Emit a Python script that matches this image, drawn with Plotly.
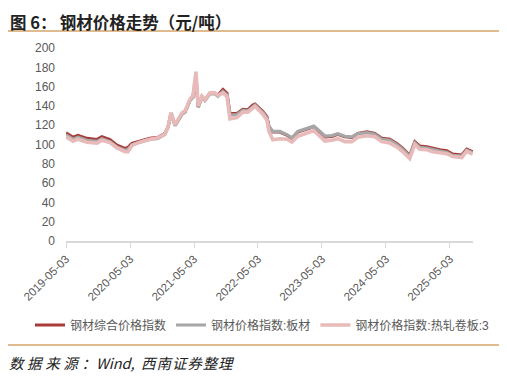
import plotly.graph_objects as go

dates = ["2019-05-03","2019-06-12","2019-07-10","2019-08-31","2019-10-27","2019-11-24","2020-01-09",
         "2020-02-18","2020-04-04","2020-04-21","2020-05-14","2020-06-28","2020-08-24","2020-10-09",
         "2020-11-18","2020-12-06","2020-12-23","2021-01-15","2021-02-24","2021-03-13","2021-04-10",
         "2021-04-27","2021-05-14","2021-05-27","2021-06-17","2021-07-04","2021-08-02","2021-08-30",
         "2021-09-16","2021-10-15","2021-11-07","2021-11-24","2022-01-03","2022-02-06","2022-03-07",
         "2022-04-04","2022-04-16","2022-05-03","2022-05-31","2022-06-23","2022-07-05","2022-07-27",
         "2022-09-05","2022-10-15","2022-11-13","2022-12-17","2023-02-06","2023-03-18","2023-04-21",
         "2023-05-20","2023-06-29","2023-08-02","2023-09-11","2023-10-21","2023-11-24","2024-01-15",
         "2024-02-29","2024-04-09","2024-05-25","2024-07-04","2024-08-07","2024-09-16","2024-10-15",
         "2024-11-12","2024-12-22","2025-01-25","2025-03-06","2025-04-15","2025-05-19","2025-07-10",
         "2025-08-07","2025-09-10"]

composite = [112.0,107.5,109.5,106.3,105.2,108.0,105.0,
             99.3,95.9,97.0,101.0,103.5,106.3,107.3,
             111.4,118.3,132.2,120.0,132.0,134.0,146.0,
             149.5,168.0,139.0,149.5,146.0,153.0,153.0,
             151.0,157.0,153.0,132.2,132.0,136.3,136.0,
             140.8,141.9,139.0,134.0,128.7,118.3,113.1,
             113.0,109.7,106.3,113.0,115.6,118.3,113.0,
             108.0,108.5,110.7,108.0,107.3,111.4,113.0,
             111.4,106.3,105.3,101.0,95.9,88.5,102.8,
             98.3,97.6,95.9,94.6,93.4,90.0,89.0,
             95.2,92.4]

board = [110.0,105.5,107.5,104.3,103.2,106.0,103.0,
         97.5,94.0,95.0,99.5,102.5,105.3,106.3,
         110.5,118.0,132.5,119.5,131.5,133.5,145.5,
         149.0,170.0,138.5,149.0,145.5,152.5,152.5,
         150.0,155.0,151.5,130.5,131.0,135.3,135.0,
         139.8,140.9,138.0,133.0,127.7,118.0,113.5,
         113.5,110.2,106.8,113.5,116.2,119.0,113.8,
         108.8,109.2,111.2,108.5,107.8,111.0,112.2,
         110.6,105.3,104.3,100.0,94.9,87.8,101.8,
         97.0,96.3,94.5,93.2,92.0,88.8,88.0,
         94.2,91.4]

hot_rolled = [108.0,103.5,105.5,102.3,101.5,104.5,102.0,
              96.5,92.5,92.5,99.0,102.5,105.5,107.0,
              111.0,118.5,133.0,120.5,133.0,135.0,147.0,
              150.5,175.5,140.0,150.0,146.5,153.5,153.5,
              151.0,153.5,150.0,126.5,128.0,133.5,133.5,
              138.0,139.5,136.5,131.5,125.5,113.5,105.0,
              106.0,105.5,102.5,108.5,111.5,114.5,108.5,
              103.5,104.5,106.0,103.0,103.0,107.5,109.0,
              108.0,103.0,101.5,97.5,92.5,85.5,100.0,
              95.0,94.5,92.5,91.5,90.5,87.5,86.5,
              93.0,90.0]

series_names = ["钢材综合价格指数", "钢材价格指数:板材", "钢材价格指数:热轧卷板:3"]
series_colors = ["#A93B39", "#A6A6A6", "#E8BABA"]
series_widths = [3.2, 3.2, 3.6]
x_tick_vals = ["2019-05-03","2020-05-03","2021-05-03","2022-05-03","2023-05-03","2024-05-03","2025-05-03"]
y_tick_vals = [0, 20, 40, 60, 80, 100, 120, 140, 160, 180, 200]

title_text = "图 6：\u2009钢材价格走势（元/吨）"
source_text = "\u2005".join(list("数据来源：")) + "Wind,  " + "\u200a".join(list("西南证券整理"))

fig = go.Figure()
for name, vals, col, w in zip(series_names, [composite, board, hot_rolled], series_colors, series_widths):
    fig.add_trace(go.Scatter(x=dates, y=vals, mode="lines", name=name,
                             line=dict(color=col, width=w)))

# page body has an 8px margin: figure drawn at (8,8) in the window
W, H = 499, 369
L, T = 58, 40
PW, PH = 407, 193


def px(xr):
    return (xr - 8 - L) / PW


def py(yr):
    return (T + PH - (yr - 8)) / PH


font_family = "Liberation Sans, Noto Sans CJK SC, sans-serif"
fig.update_layout(
    width=W, height=H,
    margin=dict(l=L, r=W - L - PW, t=T, b=H - T - PH, autoexpand=False),
    paper_bgcolor="white", plot_bgcolor="white",
    font=dict(family=font_family, size=12, color="#595959"),
    showlegend=True,
    legend=dict(orientation="h", x=px(30), xanchor="left", y=py(325), yanchor="middle",
                font=dict(size=12, color="#595959"), itemwidth=30, tracegroupgap=0,
                bgcolor="rgba(0,0,0,0)"),
    xaxis=dict(type="date", range=["2019-05-03", "2025-09-12"],
               tickvals=x_tick_vals, ticktext=x_tick_vals, tickangle=-45,
               showline=True, linecolor="#D9D9D9", linewidth=1.5,
               ticks="outside", tickcolor="#D9D9D9", ticklen=5,
               showgrid=False, zeroline=False,
               tickfont=dict(size=11.5, color="#595959")),
    yaxis=dict(range=[0, 200], tickvals=y_tick_vals, showgrid=False, zeroline=False,
               showline=False, ticks="", ticklabelstandoff=10,
               tickfont=dict(size=12, color="#595959")),
    shapes=[
        dict(type="line", xref="paper", yref="paper", x0=px(5), x1=px(500),
             y0=py(31), y1=py(31), line=dict(color="#D4A46A", width=1.5)),
        dict(type="line", xref="paper", yref="paper", x0=px(5), x1=px(500),
             y0=py(345), y1=py(345), line=dict(color="#D4A46A", width=1.5)),
    ],
    annotations=[
        dict(text="<b>" + title_text + "</b>", xref="paper", yref="paper",
             x=px(8), y=py(8.5), xanchor="left", yanchor="top", showarrow=False,
             font=dict(family="Noto Sans CJK SC, sans-serif", size=16.5, color="#222222")),
        dict(text="<i>" + source_text + "</i>", xref="paper", yref="paper",
             x=px(7), y=py(362), xanchor="left", yanchor="middle", showarrow=False,
             font=dict(family="Noto Sans CJK SC, sans-serif", size=14.5, color="#222222")),
    ],
)

fig.write_html("out.html")
